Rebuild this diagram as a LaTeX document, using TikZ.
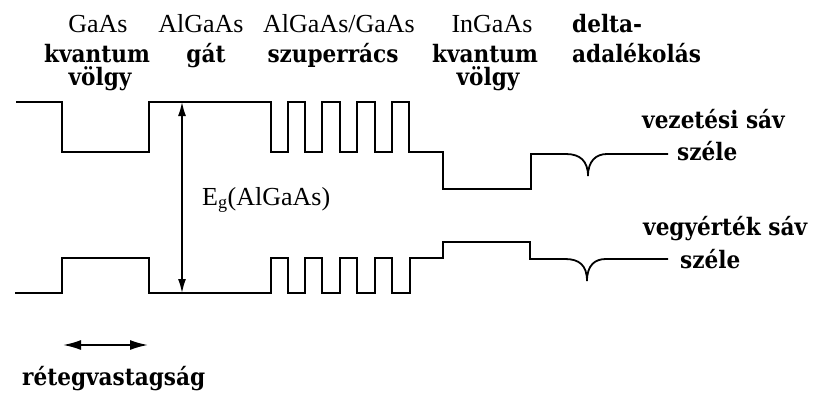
\documentclass[tikz,border=0pt]{standalone}
\usepackage{fontspec}
\setmainfont{Liberation Serif}
\newfontfamily\boldlab{DejaVu Serif Condensed}
\usetikzlibrary{arrows.meta}
\tikzset{
  band/.style={line width=1.8pt, line join=miter},
  reg/.style={font=\fontsize{26}{28}\selectfont, inner sep=0pt, anchor=base},
  bld/.style={font=\boldlab\bfseries\fontsize{24}{26}\selectfont, inner sep=0pt, anchor=base},
  gaparrow/.style={line width=1.5pt, {Latex[length=14pt,width=8pt]}-{Latex[length=14pt,width=8pt]}},
  thickarrow/.style={line width=1.8pt, {Latex[length=18pt,width=10pt]}-{Latex[length=18pt,width=10pt]}}
}
\begin{document}
\begin{tikzpicture}[x=1pt,y=-1pt]
\useasboundingbox[fill=white] (0,0) rectangle (817,394);
% conduction band edge
\draw[band] (16,102) -- (62,102) -- (62,152) -- (149,152) -- (149,102) -- (271,102)
  -- (271,152) -- (288,152) -- (288,102) -- (305,102) -- (305,152) -- (322,152)
  -- (322,102) -- (340,102) -- (340,152) -- (357,152) -- (357,102) -- (375,102)
  -- (375,152) -- (392,152) -- (392,102) -- (409,102) -- (409,152) -- (443,152)
  -- (443,189) -- (531,189) -- (531,154) -- (566,154)
  .. controls (580,154) and (588,161) .. (588,176)
  .. controls (588,161) and (596,154) .. (607,154) -- (668,154);
% valence band edge
\draw[band] (15,293) -- (62,293) -- (62,258) -- (149,258) -- (149,293) -- (271,293)
  -- (271,258) -- (288,258) -- (288,293) -- (305,293) -- (305,258) -- (322,258)
  -- (322,293) -- (340,293) -- (340,258) -- (357,258) -- (357,293) -- (375,293)
  -- (375,258) -- (392,258) -- (392,293) -- (410,293) -- (410,258) -- (443,258)
  -- (443,242) -- (530,242) -- (530,259) -- (565,259)
  .. controls (579,259) and (587,265) .. (587,281)
  .. controls (587,265) and (595,259) .. (606,259) -- (668,259);
% band gap arrow
\coordinate (cbtop) at (182,102);
\coordinate (vbbot) at (182,293);
\draw[gaparrow] (cbtop) -- (vbbot);
\node[reg, anchor=base west] (eg) at (202,205) {E\textsubscript{g}(AlGaAs)};
% layer thickness arrow
\coordinate (tl) at (63,345);
\coordinate (tr) at (148,345);
\draw[thickarrow] (tl) -- (tr);
\node[bld, anchor=base west] (thick) at (22,385) {rétegvastagság};
% headers
\node[reg] (h1a) at (98,32) {GaAs};
\node[bld] (h1b) at (97,62) {kvantum};
\node[bld] (h1c) at (100,85) {völgy};
\node[reg] (h2a) at (201,32) {AlGaAs};
\node[bld] (h2b) at (206,62) {gát};
\node[reg] (h3a) at (339,32) {AlGaAs/GaAs};
\node[bld] (h3b) at (333,62) {szuperrács};
\node[reg] (h4a) at (492,32) {InGaAs};
\node[bld] (h4b) at (485,62) {kvantum};
\node[bld] (h4c) at (488,85) {völgy};
\node[bld, anchor=base west] (h5a) at (572,32) {delta-};
\node[bld, anchor=base west] (h5b) at (572,62) {adalékolás};
% band labels
\node[bld, anchor=base west] (cb1) at (642,128) {vezetési sáv};
\node[bld, anchor=base west] (cb2) at (677,160) {széle};
\node[bld, anchor=base west] (vb1) at (643,235) {vegyérték sáv};
\node[bld, anchor=base west] (vb2) at (680,268) {széle};
\end{tikzpicture}
\end{document}
